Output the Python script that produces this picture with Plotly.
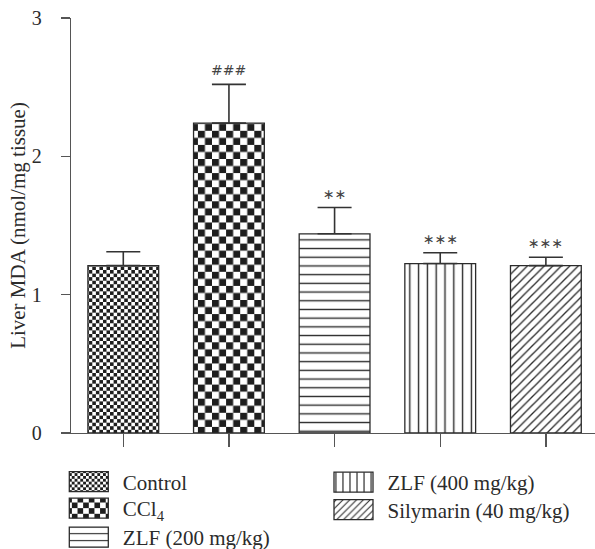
import plotly.graph_objects as go

# ---- data ----
groups = ["Control", "CCl<sub>4</sub>", "ZLF (200 mg/kg)", "ZLF (400 mg/kg)", "Silymarin (40 mg/kg)"]
uids = ["control", "ccl4", "zlf200", "zlf400", "silymarin"]
means = [1.21, 2.24, 1.44, 1.225, 1.21]
errors = [0.10, 0.28, 0.19, 0.078, 0.06]
sig_labels = ["", "###", "∗∗", "∗∗∗", "∗∗∗"]
y_ticks = [0, 1, 2, 3]

# ---- styles ----
FONT = "Liberation Serif"
INK = "#2b2b2b"
AXIS = "#555555"
W, H = 595, 549
patterns = [
    dict(shape="+", size=7, solidity=0.5),      # replaced by a fine checkerboard
    dict(shape="+", size=14, solidity=0.5),     # replaced by a coarse checkerboard
    dict(shape="-", size=8.7, solidity=0.16),
    dict(shape="|", size=8.8, solidity=0.16),
    dict(shape="/", size=6.0, solidity=0.22),
]
# legend placement (pixel positions of the swatch centres in the figure)
legend_names = ["legend", "legend2", "legend3", "legend4", "legend5"]
legend_left_px = [54.8, 54.8, 54.8, 319.5, 319.5]
legend_mid_px = [482.0, 508.5, 537.5, 482.5, 510.0]

x_pos = list(range(len(groups)))

fig = go.Figure()
for i, g in enumerate(groups):
    p = patterns[i]
    fig.add_trace(go.Bar(
        x=[x_pos[i]], y=[means[i]], name=g, uid=uids[i],
        width=0.67,
        marker=dict(color="white",
                    line=dict(color=INK, width=1.3),
                    pattern=dict(shape=p["shape"], size=p["size"], solidity=p["solidity"],
                                 fgcolor=INK, bgcolor="white", fillmode="replace")),
        error_y=dict(type="data", array=[errors[i]], arrayminus=[0], symmetric=False,
                     visible=True, color="#333333", thickness=1.6, width=17),
        legend=legend_names[i],
        showlegend=True,
    ))

for i in range(len(groups)):
    if sig_labels[i]:
        fig.add_annotation(x=x_pos[i], y=means[i] + errors[i], text=sig_labels[i],
                           showarrow=False, yanchor="bottom", yshift=4,
                           font=dict(family="DejaVu Sans", size=14, color="#444444"))

legend_style = dict(xanchor="left", yanchor="middle", xref="container", yref="container",
                    orientation="h", itemwidth=58, borderwidth=0,
                    font=dict(family=FONT, size=21, color=INK), bgcolor="rgba(0,0,0,0)")
legends = {}
for name, lx, my in zip(legend_names, legend_left_px, legend_mid_px):
    legends[name] = dict(x=lx / W, y=1 - my / H, **legend_style)

fig.update_layout(
    width=W, height=H,
    margin=dict(l=71, r=0, t=18, b=116, autoexpand=False),
    plot_bgcolor="white", paper_bgcolor="white",
    barmode="overlay",
    font=dict(family=FONT, size=21, color=INK),
    **legends,
)
fig.update_xaxes(
    range=[-0.495, 4.465], tickvals=x_pos, showticklabels=False,
    ticks="outside", ticklen=13, tickwidth=1.3, tickcolor=AXIS,
    showline=True, linecolor=AXIS, linewidth=1.3, showgrid=False, zeroline=False,
)
fig.update_yaxes(
    range=[0, 3], tickvals=y_ticks, ticks="outside", ticklen=9, tickwidth=1.3,
    tickcolor=AXIS, showline=True, linecolor=AXIS, linewidth=1.3,
    showgrid=False, zeroline=False, ticklabelstandoff=15,
    tickfont=dict(family=FONT, size=20, color=INK),
    title=dict(text="Liver MDA (nmol/mg tissue)", standoff=0,
               font=dict(family=FONT, size=21, color=INK)),
)

post = """
document.documentElement.style.margin = '0';
document.body.style.margin = '0';
document.body.style.padding = '0';
document.body.style.overflow = 'hidden';
var gd = document.getElementById('{plot_id}');
var NS = 'http://www.w3.org/2000/svg';
function checker(uid, c) {
  gd.querySelectorAll('pattern').forEach(function(p){
    var id = p.getAttribute('id') || '';
    if (id.slice(-(uid.length + 1)) !== '-' + uid) return;
    while (p.firstChild) p.removeChild(p.firstChild);
    p.setAttribute('width', 2*c); p.setAttribute('height', 2*c);
    var bg = document.createElementNS(NS, 'rect');
    bg.setAttribute('width', 2*c); bg.setAttribute('height', 2*c); bg.setAttribute('fill', '#ffffff');
    p.appendChild(bg);
    [[0,0],[c,c]].forEach(function(o){
      var r = document.createElementNS(NS, 'rect');
      r.setAttribute('x', o[0]); r.setAttribute('y', o[1]);
      r.setAttribute('width', c); r.setAttribute('height', c); r.setAttribute('fill', '#1e1e1e');
      p.appendChild(r);
    });
  });
}
checker('control', 3.55);
checker('ccl4', 7.05);
gd.querySelectorAll('g.legendpoints path').forEach(function(p){
  p.setAttribute('d', 'M19.5,10H-19.5V-10H19.5Z');
});
"""

fig.write_html("out.html", post_script=post, config={"staticPlot": True})
